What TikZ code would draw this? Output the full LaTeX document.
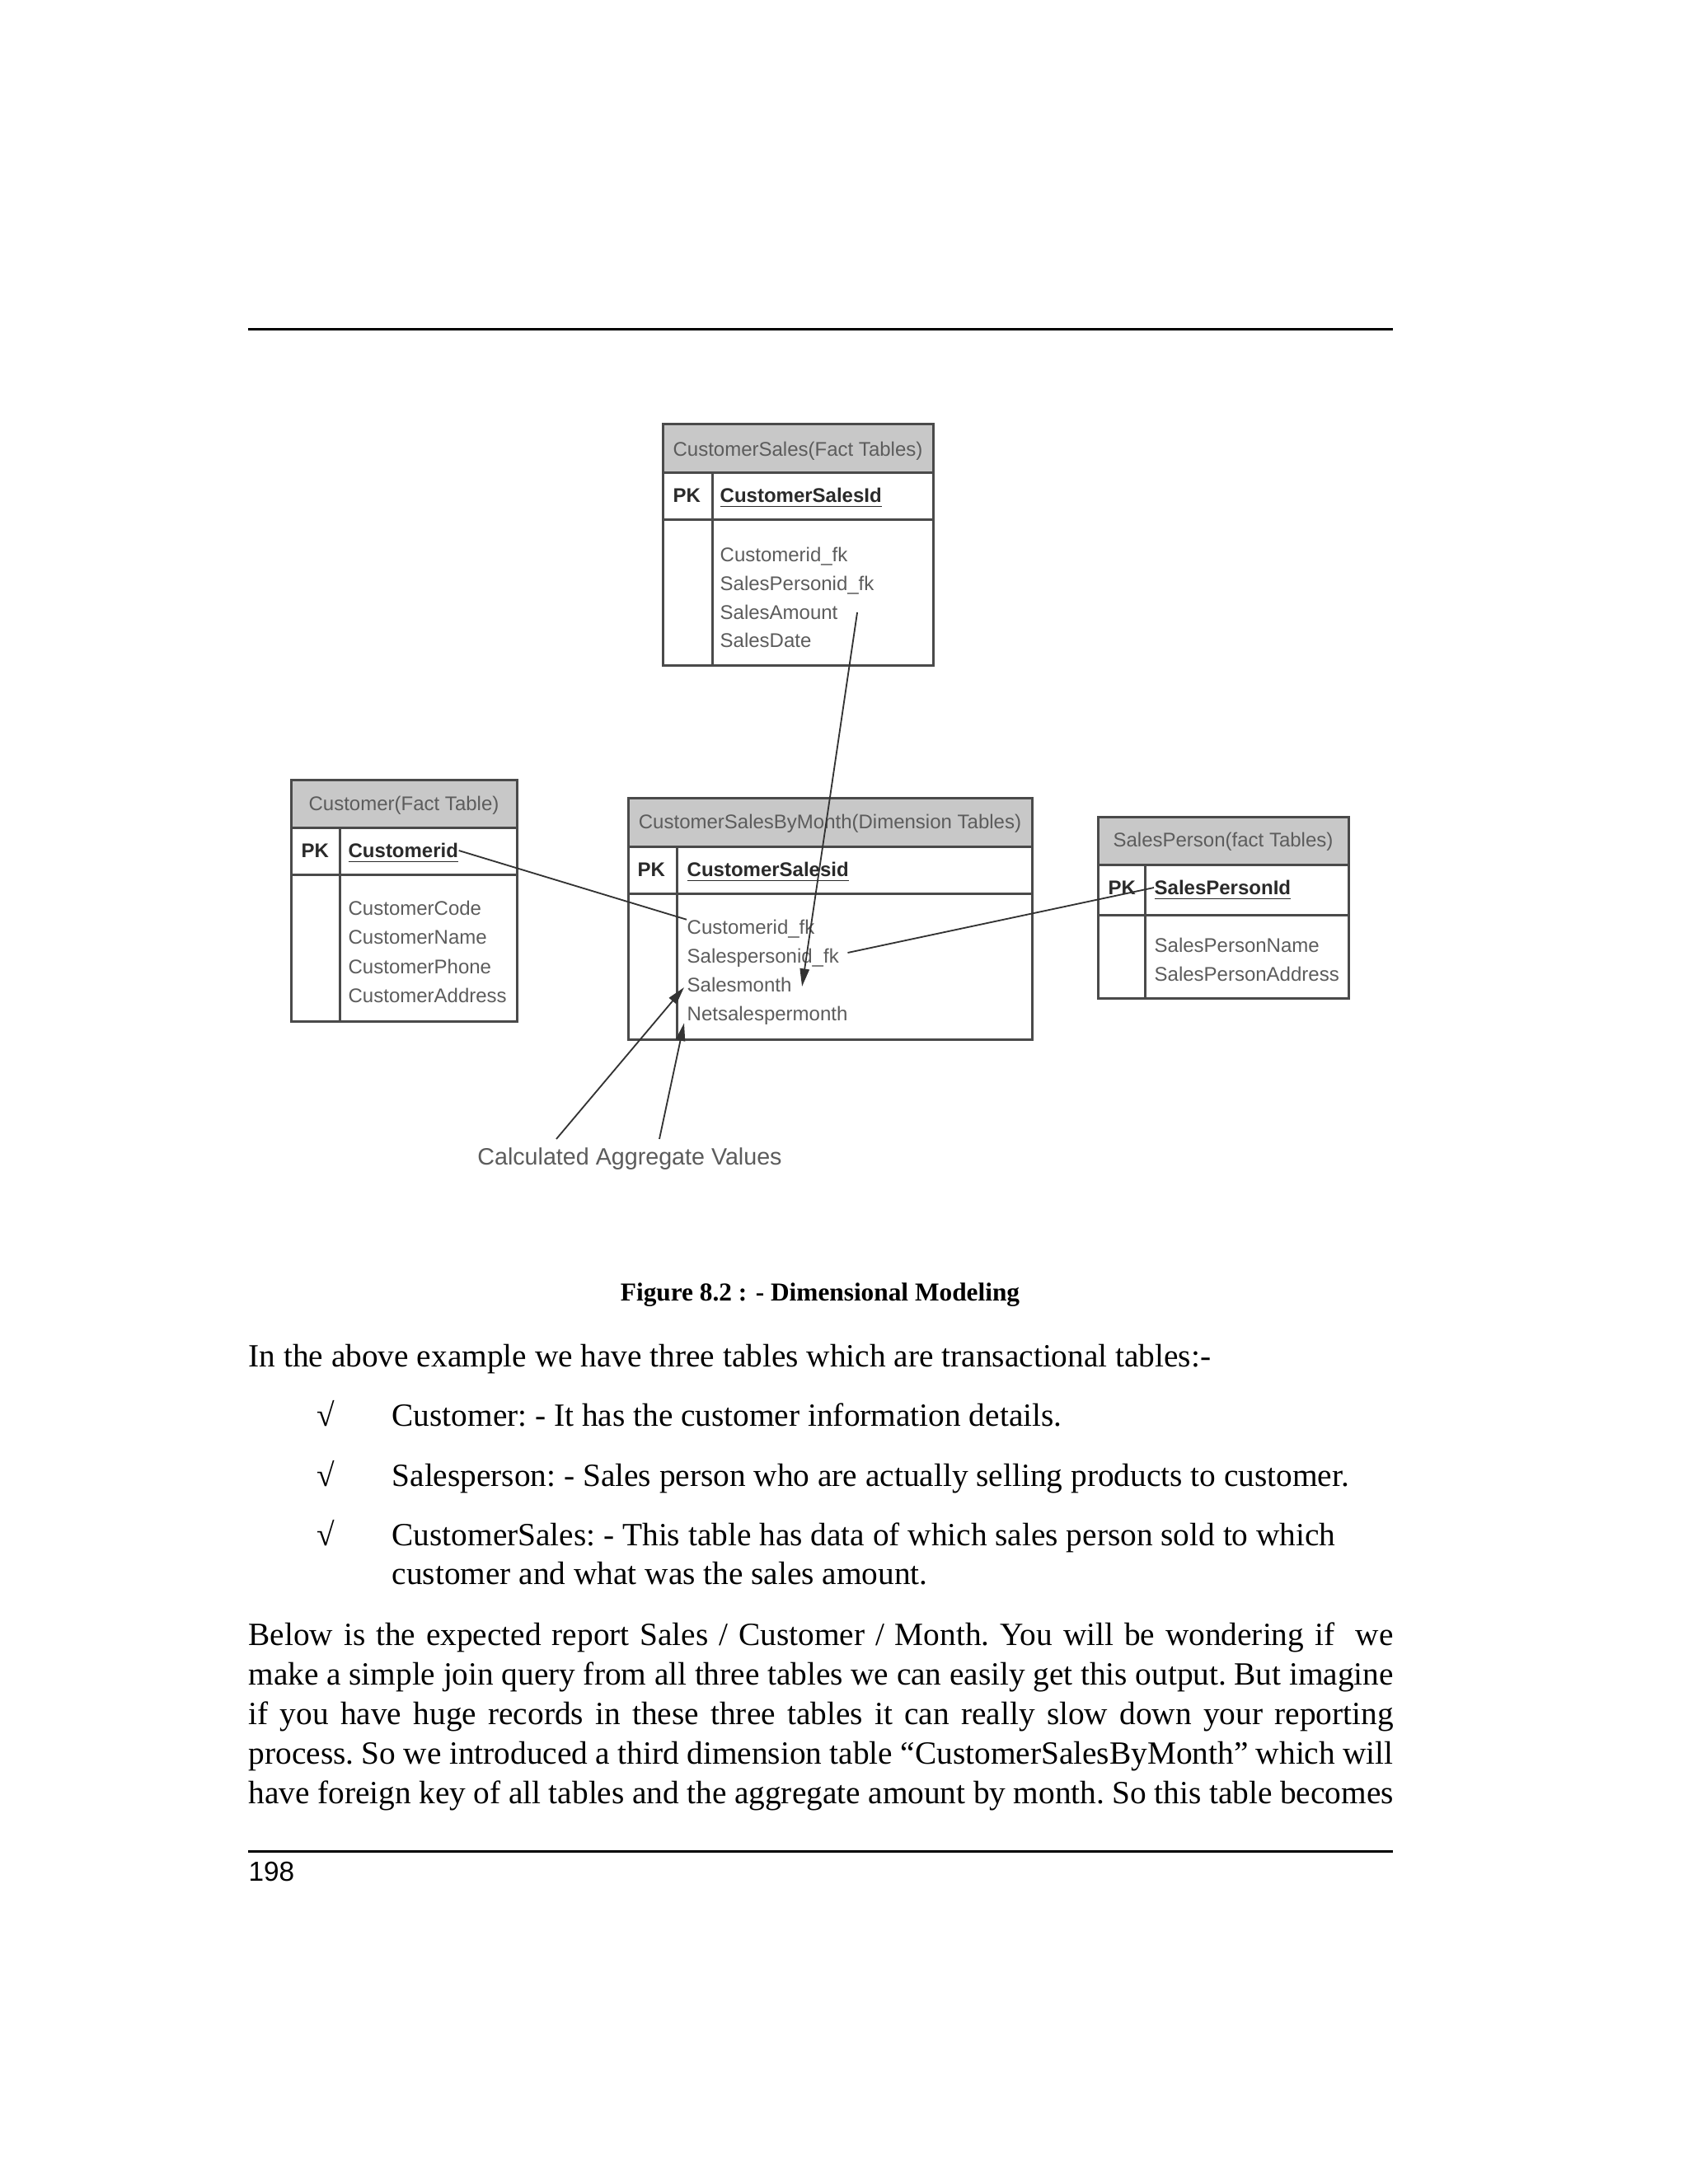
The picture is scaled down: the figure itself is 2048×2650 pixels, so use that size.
\documentclass[tikz,border=0pt]{standalone}
\usepackage{fontspec}
\setmainfont{Liberation Serif}
\newfontfamily\arialf{Liberation Sans}
\usetikzlibrary{arrows.meta,calc}
\definecolor{hdrgray}{HTML}{C8C8C8}
\definecolor{framegray}{HTML}{4A4A4A}
\definecolor{txtgray}{HTML}{5C5C5C}
\definecolor{keydark}{HTML}{2A2A2A}
\definecolor{conngray}{HTML}{333333}
\tikzset{
  tframe/.style={draw=framegray, line width=0.9pt},
  tbase/.style={inner sep=0pt, text height=5.16pt, text depth=0pt},
  ttitle/.style={tbase, font=\arialf\fontsize{7.2}{8}\selectfont, text=txtgray},
  tfield/.style={tbase, anchor=west, font=\arialf\fontsize{7.2}{8}\selectfont, text=txtgray},
  tpk/.style={tbase, anchor=west, font=\arialf\bfseries\fontsize{7.2}{8}\selectfont, text=keydark},
  conn/.style={draw=conngray, line width=0.55pt},
  arr/.style={conn, -{Triangle[length=6.5pt,width=3.4pt]}},
  bodytxt/.style={inner sep=0pt, anchor=base west, font=\frenchspacing\fontsize{11.8}{14.4}\selectfont},
  rulel/.style={line width=0.9pt},
}
\newcommand\erdtab[7]{%
  \fill[hdrgray] (#1,#3) rectangle (#2,#4);
  \draw[tframe] (#1,#4) -- (#2,#4) (#1,#5) -- (#2,#5) (#7,#4) -- (#7,#6);
  \draw[tframe] (#1,#3) rectangle (#2,#6);
}
\newcommand\pkkey[1]{\underline{#1}}
\begin{document}
\begin{tikzpicture}[x=0.3pt,y=-0.3pt]
\useasboundingbox (0,0) rectangle (2048,2650);
\fill[white] (0,0) rectangle (2048,2650);

% page rules
\draw[rulel] (301,399) -- (1690,399);
\draw[rulel] (301,2246) -- (1690,2246);

% ---------- CustomerSales ----------
\erdtab{804}{1132}{514}{573}{630}{807}{864}
\node[ttitle] (cst) at (968,545) {CustomerSales(Fact Tables)};
\node[tpk] (cspk) at (816,601) {PK};
\node[tpk] (csid) at (873,601) {\pkkey{CustomerSalesId}};
\node[tfield] (csf1) at (873,673) {Customerid\_fk};
\node[tfield] (csf2) at (873,708) {SalesPersonid\_fk};
\node[tfield] (samt) at (873,743) {SalesAmount};
\node[tfield] (csf4) at (873,777) {SalesDate};

% ---------- Customer ----------
\erdtab{353}{627}{946}{1004}{1061}{1239}{412}
\node[ttitle] (ct) at (490,975) {Customer(Fact Table)};
\node[tpk] (cpk) at (365,1032) {PK};
\node[tpk] (custid) at (422,1032) {\pkkey{Customerid}};
\node[tfield] (cf1) at (422,1102) {CustomerCode};
\node[tfield] (cf2) at (422,1137) {CustomerName};
\node[tfield] (cf3) at (422,1173) {CustomerPhone};
\node[tfield] (cf4) at (422,1208) {CustomerAddress};

% ---------- CustomerSalesByMonth ----------
\erdtab{762}{1252}{968}{1027}{1084}{1261}{821}
\node[ttitle] (csmt) at (1007,997) {CustomerSalesByMonth(Dimension Tables)};
\node[tpk] (csmpk) at (773,1055) {PK};
\node[tpk] (csmid) at (833,1055) {\pkkey{CustomerSalesid}};
\node[tfield] (cfk) at (833,1125) {Customerid\_fk};
\node[tfield] (spfk) at (833,1160) {Salespersonid\_fk};
\node[tfield] (smonth) at (833,1195) {Salesmonth};
\node[tfield] (nspm) at (833,1230) {Netsalespermonth};

% ---------- SalesPerson ----------
\erdtab{1332}{1636}{991}{1049}{1110}{1211}{1389}
\node[ttitle] (spt) at (1484,1019) {SalesPerson(fact Tables)};
\node[tpk] (sppk) at (1344,1077) {PK};
\node[tpk] (spid) at (1400,1077) {\pkkey{SalesPersonId}};
\node[tfield] (spf1) at (1400,1147) {SalesPersonName};
\node[tfield] (spf2) at (1400,1182) {SalesPersonAddress};

% ---------- label ----------
\node[inner sep=0pt, font=\arialf\fontsize{8.6}{10}\selectfont, text=txtgray, text height=6.2pt, text depth=0pt] (calc) at (764,1403) {Calculated Aggregate Values};

% ---------- connectors ----------
\draw[conn] (custid.east) -- (cfk.north west);
\draw[arr] ($(samt.east)+(23,0)$) -- ($(smonth.east)+(12,2)$);
\draw[conn] (spid.west) -- ($(spfk.east)+(10,-4)$);
\draw[arr] ($(calc.north)+(-89,-10)$) -- ($(smonth.west)+(-3,3)$);
\draw[arr] ($(calc.north)+(36,-10)$) -- ($(nspm.south west)+(-3,2)$);

% ---------- caption and text ----------
\node[inner sep=0pt, anchor=base, font=\bfseries\fontsize{9.4}{11}\selectfont] (cap) at (995,1578) {Figure 8.2 : - Dimensional Modeling};
\node[bodytxt] (t1) at (301,1658) {In the above example we have three tables which are transactional tables:-};
\node[bodytxt] (b1) at (384,1730) {√};
\node[bodytxt] (l1) at (475,1730) {Customer: - It has the customer information details.};
\node[bodytxt] (b2) at (384,1803) {√};
\node[bodytxt] (l2) at (475,1803) {Salesperson: - Sales person who are actually selling products to customer.};
\node[bodytxt] (b3) at (384,1875) {√};
\node[bodytxt] (l3) at (475,1875) {CustomerSales: - This table has data of which sales person sold to which};
\node[bodytxt] (l3b) at (475,1922) {customer and what was the sales amount.};
\node[bodytxt] (p1) at (301,1996) {\makebox[416.7pt][s]{Below is the expected report Sales / Customer / Month. You will be wondering if \ we}};
\node[bodytxt] (p2) at (301,2044) {\makebox[416.7pt][s]{make a simple join query from all three tables we can easily get this output. But imagine}};
\node[bodytxt] (p3) at (301,2092) {\makebox[416.7pt][s]{if you have huge records in these three tables it can really slow down your reporting}};
\node[bodytxt] (p4) at (301,2140) {\makebox[416.7pt][s]{process. So we introduced a third dimension table “CustomerSalesByMonth” which will}};
\node[bodytxt] (p5) at (301,2188) {\makebox[416.7pt][s]{have foreign key of all tables and the aggregate amount by month. So this table becomes}};
\node[inner sep=0pt, anchor=base west, font=\arialf\fontsize{10}{12}\selectfont] (pg) at (301,2282) {198};
\end{tikzpicture}
\end{document}
